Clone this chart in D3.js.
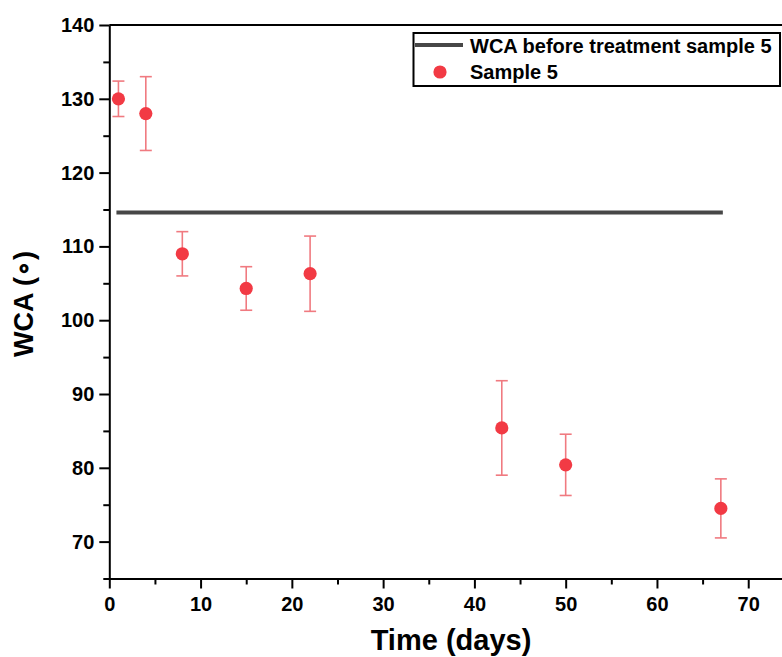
<!DOCTYPE html>
<html>
<head>
<meta charset="utf-8">
<script src="https://cdn.jsdelivr.net/npm/d3@7/dist/d3.min.js"></script>
<style>
  html, body { margin: 0; padding: 0; background: #ffffff; }
  svg { display: block; }
  text { font-family: "Liberation Sans", Arial, sans-serif; font-weight: bold; }
</style>
</head>
<body>
<script>
// ---- data ----
const days = [1, 4, 8, 15, 22, 43, 50, 67];
const wca = [130.0, 128.0, 109.0, 104.3, 106.3, 85.4, 80.4, 74.5];
const wcaErr = [2.4, 5.0, 3.0, 2.95, 5.1, 6.4, 4.15, 4.0];
const baselineDays = [1, 67];
const baselineWCA = 114.6;
const xTicks = [0, 10, 20, 30, 40, 50, 60, 70];
const xMinor = [5, 15, 25, 35, 45, 55, 65];
const yTicks = [70, 80, 90, 100, 110, 120, 130, 140];
const yMinor = [65, 75, 85, 95, 105, 115, 125, 135];
const legendLabels = ["WCA before treatment sample 5", "Sample 5"];

// ---- layout ----
const W = 782, H = 657;
const mLeft = 109.3, mTop = 25, mRight = 782, mBottom = 578.5;

const svg = d3.select("body").append("svg").attr("width", W).attr("height", H);
svg.append("rect").attr("width", W).attr("height", H).attr("fill", "#ffffff");

const x = d3.scaleLinear().domain([0, 73.7]).range([mLeft, mRight]);
const y = d3.scaleLinear().domain([65, 140]).range([mBottom, mTop]);

// top frame
svg.append("line").attr("x1", mLeft).attr("x2", mRight).attr("y1", mTop).attr("y2", mTop)
  .attr("stroke", "#000").attr("stroke-width", 2);

// x axis
const gx = svg.append("g").attr("transform", `translate(0,${mBottom})`);
gx.call(d3.axisBottom(x).tickValues(xTicks).tickSize(10).tickSizeOuter(0).tickPadding(8).tickFormat(d3.format("d")));
const gxm = svg.append("g").attr("transform", `translate(0,${mBottom})`);
gxm.call(d3.axisBottom(x).tickValues(xMinor).tickSize(6).tickSizeOuter(0).tickFormat(""));
gxm.select(".domain").remove();

// y axis
const gy = svg.append("g").attr("transform", `translate(${mLeft},0)`);
gy.call(d3.axisLeft(y).tickValues(yTicks).tickSize(10).tickSizeOuter(0).tickPadding(5).tickFormat(d3.format("d")));
const gym = svg.append("g").attr("transform", `translate(${mLeft},0)`);
gym.call(d3.axisLeft(y).tickValues(yMinor).tickSize(6).tickSizeOuter(0).tickFormat(""));
gym.select(".domain").remove();

svg.selectAll(".domain").attr("stroke", "#000").attr("stroke-width", 2);
svg.selectAll(".tick line").attr("stroke", "#000").attr("stroke-width", 2);
svg.selectAll(".tick text").attr("fill", "#000").style("font-size", "20px")
  .style("font-family", '"Liberation Sans", Arial, sans-serif').style("font-weight", "bold");

// axis titles
svg.append("text").attr("x", 451).attr("y", 650).attr("text-anchor", "middle")
  .style("font-size", "29px").text("Time (days)");
svg.append("text").attr("transform", `translate(33,304) rotate(-90)`).attr("text-anchor", "middle")
  .style("font-size", "27px").text("WCA (∘)");

// baseline
svg.append("line")
  .attr("x1", x(baselineDays[0])).attr("x2", x(baselineDays[1]))
  .attr("y1", y(baselineWCA)).attr("y2", y(baselineWCA))
  .attr("stroke", "#474747").attr("stroke-width", 4).attr("stroke-linecap", "square");

// error bars
const data = days.map((d, i) => ({ d, v: wca[i], e: wcaErr[i] }));
const eb = svg.append("g").attr("stroke", "#f07a80").attr("stroke-width", 1.6);
eb.selectAll("line.v").data(data).join("line").attr("class", "v")
  .attr("x1", p => x(p.d)).attr("x2", p => x(p.d))
  .attr("y1", p => y(p.v + p.e)).attr("y2", p => y(p.v - p.e));
eb.selectAll("line.t").data(data).join("line").attr("class", "t")
  .attr("x1", p => x(p.d) - 6).attr("x2", p => x(p.d) + 6)
  .attr("y1", p => y(p.v + p.e)).attr("y2", p => y(p.v + p.e));
eb.selectAll("line.b").data(data).join("line").attr("class", "b")
  .attr("x1", p => x(p.d) - 6).attr("x2", p => x(p.d) + 6)
  .attr("y1", p => y(p.v - p.e)).attr("y2", p => y(p.v - p.e));

// points
svg.append("g").selectAll("circle").data(data).join("circle")
  .attr("cx", p => x(p.d)).attr("cy", p => y(p.v)).attr("r", 6.6)
  .attr("fill", "#f23a44");

// legend
const lg = svg.append("g");
lg.append("rect").attr("x", 413.5).attr("y", 33).attr("width", 366.5).attr("height", 53)
  .attr("fill", "#ffffff").attr("stroke", "#000").attr("stroke-width", 2);
lg.append("line").attr("x1", 415).attr("x2", 463).attr("y1", 45).attr("y2", 45)
  .attr("stroke", "#474747").attr("stroke-width", 4);
lg.append("text").attr("x", 470).attr("y", 53).style("font-size", "20px").text(legendLabels[0]);
lg.append("circle").attr("cx", 440).attr("cy", 72).attr("r", 6.6).attr("fill", "#f23a44");
lg.append("text").attr("x", 470).attr("y", 79).style("font-size", "20px").text(legendLabels[1]);
</script>
</body>
</html>
